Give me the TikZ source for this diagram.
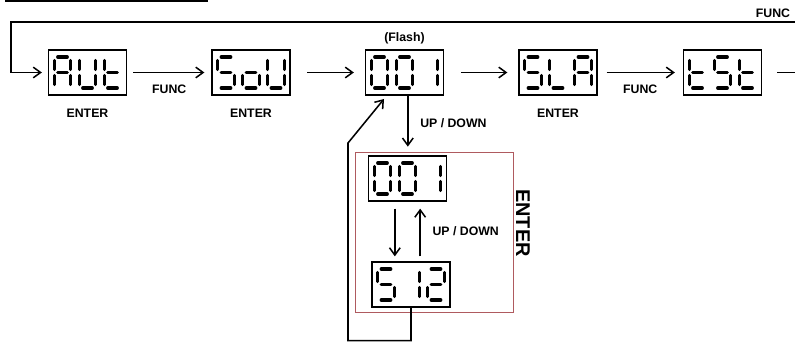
\documentclass[tikz,border=0pt]{standalone}
\usepackage{fontspec}
\setmainfont{Liberation Sans}
\usetikzlibrary{positioning, arrows.meta, calc}
\definecolor{framered}{RGB}{175,90,95}

% seven segments of one LCD cell
\def\sega{(-4.8,-15.5) -- (4.8,-15.5)}
\def\segb{(8.2,-12) -- (8.2,-3)}
\def\segc{(8.2,3) -- (8.2,12)}
\def\segd{(-4.8,15.5) -- (4.8,15.5)}
\def\sege{(-8.2,3) -- (-8.2,12)}
\def\segf{(-8.2,-12) -- (-8.2,-3)}
\def\segg{(-4.8,0) -- (4.8,0)}
% characters as segment lists
\def\chA{a,b,c,e,f,g}
\def\chU{b,c,d,e,f}
\def\cht{d,e,f,g}
\def\chS{a,c,d,f,g}
\def\cho{c,d,e,g}
\def\chL{d,e,f}
\def\chZero{a,b,c,d,e,f}
\def\chOne{b,c}
\def\chTwo{a,b,d,e,g}

\newcommand{\lcd}[2]{%
  \foreach \segs [count=\cnt] in {#2} {
    \edef\seglist{\segs}
    \begin{scope}[shift={($(#1.center)+({(\cnt-2)*25},0)$)}]
      \foreach \sg in \seglist {\draw[segline] \csname seg\sg\endcsname;}
    \end{scope}
  }}

\begin{document}
\begin{tikzpicture}[x=0.3mm, y=-0.3mm,
      lcdbox/.style={draw, line width=1.1pt, minimum width=23.4mm,
                     minimum height=13.5mm, inner sep=0pt},
      segline/.style={line width=2.7pt, line cap=round},
      arr/.style={-{Straight Barb[length=2.2mm, width=3.2mm]}, line width=1.3pt},
      lbl/.style={font=\fontsize{10.5}{12}\selectfont\bfseries, inner sep=0pt}]
    \useasboundingbox (0,0) rectangle (795,345);
    \fill (5,0) rectangle (208,2.5);

    % main menu
    \node[lcdbox] (aut) at (87.5,72.5) {};
    \node[lcdbox] (sou) at (251,72.5) {};
    \node[lcdbox] (sel) at (404.5,72.5) {};
    \node[lcdbox] (sla) at (558,72.5) {};
    \node[lcdbox] (tst) at (722.5,72.5) {};
    \lcd{aut}{\chA,\chU,\cht}
    \lcd{sou}{\chS,\cho,\chU}
    \lcd{sel}{\chZero,\chZero,\chOne}
    \lcd{sla}{\chS,\chL,\chA}
    \lcd{tst}{\cht,\chS,\cht}

    % sub menu
    \node[draw=framered, line width=0.6pt, minimum width=47.4mm,
          minimum height=48mm] (frame) at (434,232) {};
    \node[lcdbox] (num) at (407.5,178.5) {};
    \node[lcdbox] (val) at (411,284.5) {};
    \lcd{num}{\chZero,\chZero,\chOne}
    \lcd{val}{\chS,\chOne,\chTwo}

    % labels
    \node[lbl, below=4mm of aut] (aut-enter) {ENTER};
    \node[lbl, below=4mm of sou] (sou-enter) {ENTER};
    \node[lbl, below=4mm of sla] (sla-enter) {ENTER};
    \node[lbl, above=1.5mm of sel] (flash) {(Flash)};
    \node[lbl, font=\fontsize{17}{19}\selectfont\bfseries, rotate=-90]
      (frame-enter) at (523,223) {ENTER};
    \node[lbl] (func-top) at (773,13) {FUNC};

    % connectors
    \coordinate (loopR) at (795,22);
    \coordinate (loopL) at (11,22);
    \coordinate (exitR) at (795,72.5);
    \coordinate (retC) at (348,143);
    \coordinate (retT) at (384,99);
    \draw[line width=1.3pt, shorten <=4.5mm] (tst.east) -- (exitR);
    \draw[arr, shorten >=1.8mm] (loopR) -- (loopL) |- (aut.west);
    \draw[arr, shorten <=1.8mm, shorten >=2.1mm] (aut) -- (sou)
      node[midway, below=3.5mm, lbl] {FUNC};
    \draw[arr, shorten <=5mm, shorten >=3.3mm] (sou) -- (sel);
    \draw[arr, shorten <=5mm, shorten >=3.3mm] (sel) -- (sla);
    \draw[arr, shorten <=2.7mm, shorten >=2.4mm] (sla) -- (tst)
      node[midway, below=3.5mm, lbl] {FUNC};
    \draw[arr, shorten >=1.5mm] ([xshift=1mm]sel.south)
      -- ([xshift=1mm]sel.south |- frame.north)
      node[midway, right=3.5mm, lbl] {UP / DOWN};
    \draw[arr, shorten <=2.1mm, shorten >=1.5mm] ([xshift=-3.8mm]num.south)
      -- ([xshift=-3.8mm]num.south |- val.north);
    \draw[arr, shorten <=1.5mm, shorten >=2.1mm] ([xshift=3.8mm]num.south |- val.north)
      -- ([xshift=3.8mm]num.south)
      node[midway, right=3.5mm, lbl] {UP / DOWN};
    \draw[arr] (val.south) -- ++(0,33) -| (retC) -- (retT);
  \end{tikzpicture}
\end{document}
